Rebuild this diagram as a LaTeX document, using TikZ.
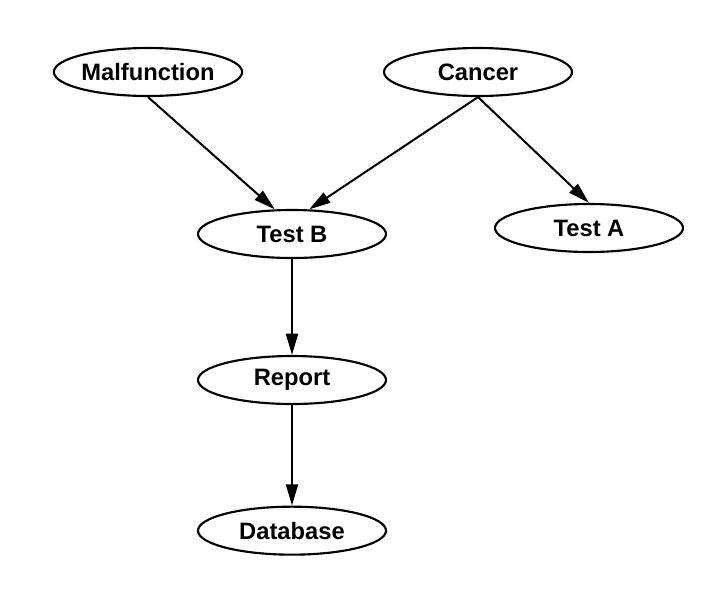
\documentclass[tikz,border=0pt]{standalone}
\usepackage{fontspec}
\setmainfont{Liberation Sans}
\usetikzlibrary{shapes.geometric, arrows.meta, positioning}
\tikzstyle{box} = [ellipse, minimum width=141pt, minimum height=36pt, inner sep=0pt, text centered, draw=black, line width=1.6pt, font=\fontsize{17.8}{20}\selectfont\bfseries]
\tikzstyle{arrow} = [line width=1.5pt,->,>={Triangle[length=16pt,width=9pt]}]

\begin{document}
\begin{tikzpicture}[x=0.75pt, y=-0.75pt]
\useasboundingbox (0,0) rectangle (708,611);

% Nodes
\node (malfunction) [box] at (148,72) {Malfunction};
\node (cancer) [box, right of=malfunction, node distance=247.5pt] {Cancer};
\node (testb) [box] at (292,234) {Test B};
\node (testa) [box] at (589,228) {Test A};
\node (report) [box, below of=testb, node distance=109.5pt] {Report};
\node (database) [box, below of=report, node distance=113pt] {Database};

% Arrows
\draw [arrow] (malfunction.south) -- (testb.125);
\draw [arrow] (cancer.south) -- (testb.55);
\draw [arrow] (cancer.south) -- (testa.north);
\draw [arrow] (testb.south) -- (report.north);
\draw [arrow] (report.south) -- (database.north);

\end{tikzpicture}
\end{document}
